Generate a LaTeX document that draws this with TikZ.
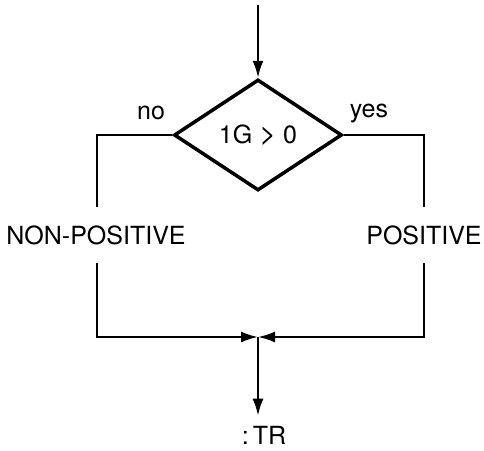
\documentclass[tikz,border=0pt]{standalone}
\usepackage{fontspec}
\setmainfont{TeX Gyre Heros}
\usetikzlibrary{shapes.geometric,arrows.meta}

\begin{document}
\begin{tikzpicture}[x=1pt,y=-1pt,font=\fontsize{25}{30}\selectfont,
    flow/.style={line width=2.1pt},
    tip/.style={-{Latex[length=17pt,width=11pt]}}]
    \useasboundingbox (0,0) rectangle (484,450);
    \coordinate (S) at (258,5);
    \node[draw, diamond, line width=3.5pt, minimum width=168pt, minimum height=111pt, inner sep=0pt] (T) at (258,135) {1G\ {\fontsize{29}{30}\selectfont >}\ 0};
    \coordinate (L) at (97,135);
    \coordinate (R) at (424,135);
    \node[inner ysep=18pt] (N) at (96,235) {NON-POSITIVE};
    \node[inner ysep=18pt] (P) at (424,235) {POSITIVE};
    \coordinate (J) at (258,337);
    \coordinate (LB) at (97,337);
    \coordinate (RB) at (424,337);
    \node[inner ysep=10pt] (O) at (264,435) {:\,TR};
    \node (no) at (151,113) {no};
    \node (yes) at (369,113) {yes};
    \draw[flow, tip] (S) -- (T.north);
    \draw[flow] (T.west) -- (L) -- (L |- N.north);
    \draw[flow] (T.east) -- (R) -- (R |- N.north);
    \draw[flow, tip] (L |- N.south) -- (LB) -- (J);
    \draw[flow, tip] (R |- P.south) -- (RB) -- (J);
    \draw[flow, tip] (J) -- (J |- O.north);
\end{tikzpicture}
\end{document}
